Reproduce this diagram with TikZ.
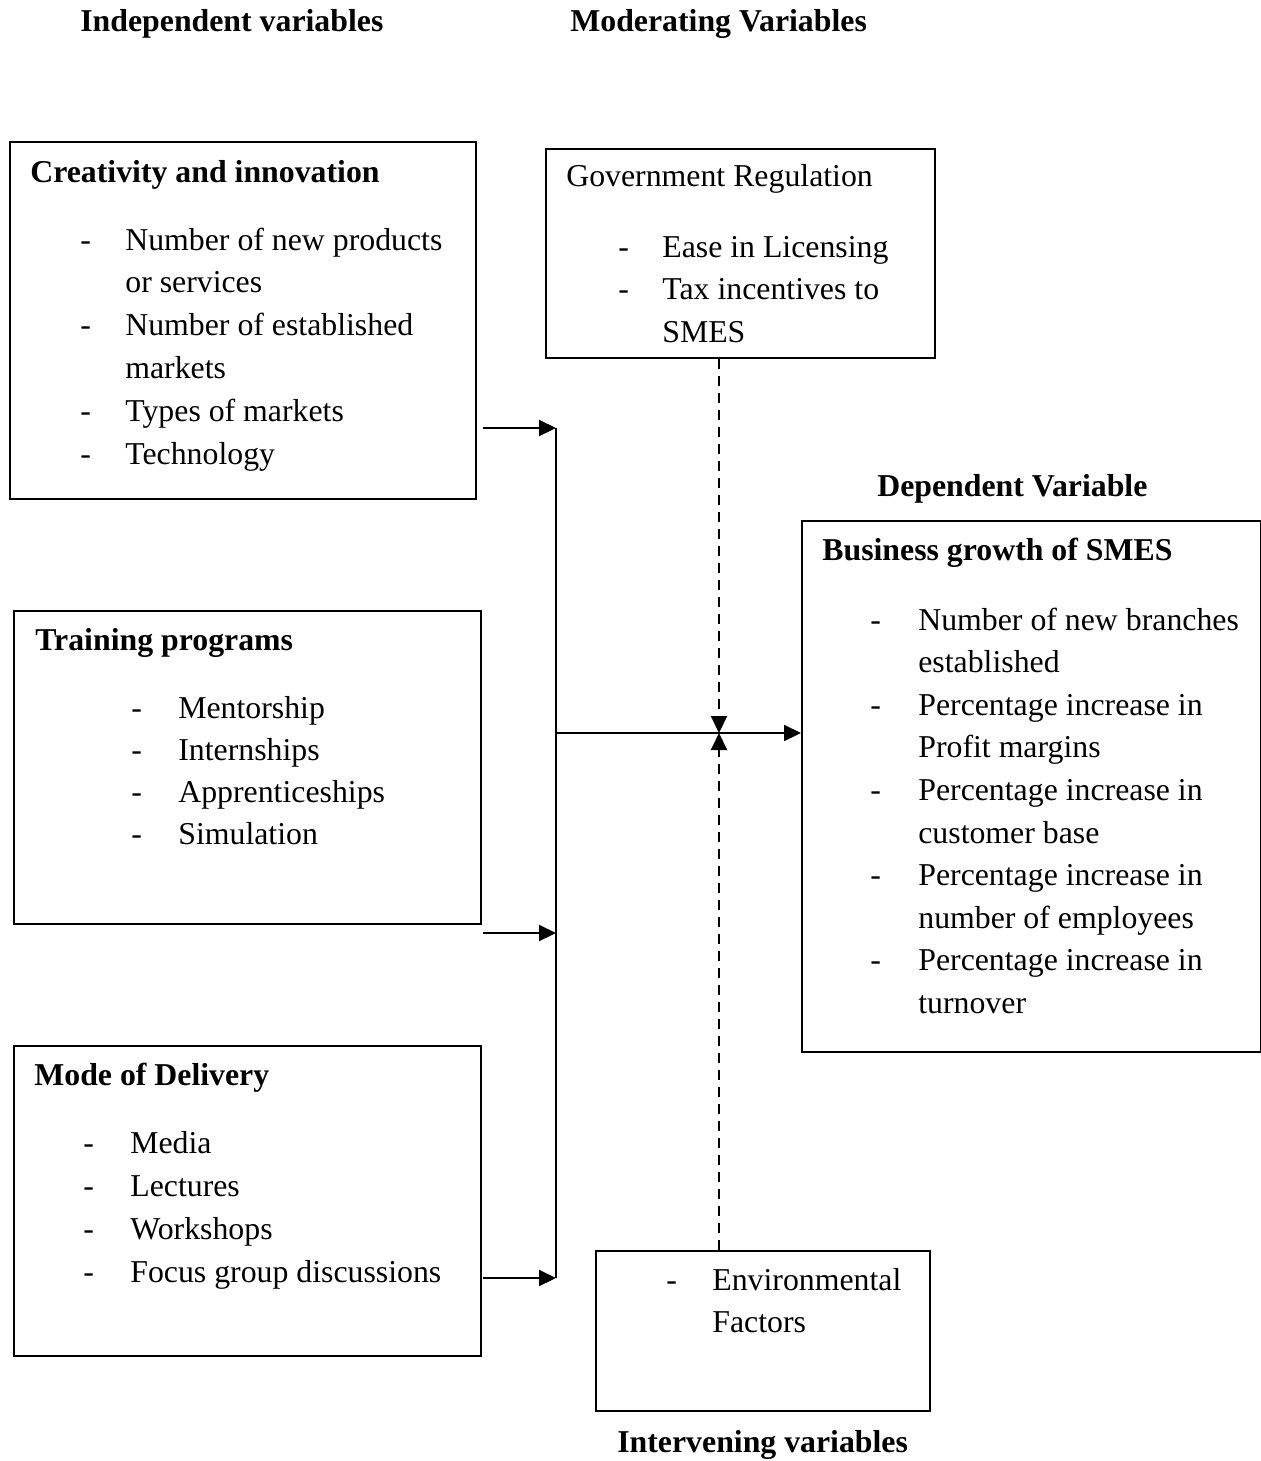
\documentclass[tikz,border=0pt]{standalone}
\usepackage{fontspec}
\setmainfont{Liberation Serif}
\usetikzlibrary{arrows.meta}
\begin{document}
\begin{tikzpicture}[x=0.02cm,y=-0.02cm,
		every node/.style={font=\fontsize{18.1}{24.3}\selectfont,inner sep=0pt},
		txt/.style={anchor=base west},
		head/.style={anchor=base west,font=\fontsize{18.1}{24.3}\selectfont\bfseries},
		box/.style 2 args={draw,line width=1.1pt,anchor=north west,minimum width=#1cm,minimum height=#2cm},
		arr/.style={line width=1.2pt,-{Triangle[length=0.34cm,width=0.32cm]}}]
	\useasboundingbox (0,0) rectangle (1261,1461);
	\node[head] (hindep) at (80,31) {Independent variables};
	\node[head] (hmod) at (570,31) {Moderating Variables};
	\node[head] (hdep) at (877,496) {Dependent Variable};
	\node[head] (hint) at (617,1452) {Intervening variables};
	\node[box={9.32}{7.14}] (creat) at (9,141) {};
	\node[head] (creatt) at (30,182) {Creativity and innovation};
	\foreach \t [count=\k from 0] in {Number of new products,or services,Number of established,markets,Types of markets,Technology}
		\node[txt] (creat\k) at (125,250+42.8*\k) {\t};
	\foreach \k in {0,2,4,5}
		\node[txt] (creatd\k) at (80,250+42.8*\k) {-};
	\node[box={7.78}{4.18}] (gov) at (545,148) {};
	\node[txt] (govt) at (566,186) {Government Regulation};
	\foreach \t [count=\k from 0] in {Ease in Licensing,Tax incentives to,SMES}
		\node[txt] (gov\k) at (662,257+42.6*\k) {\t};
	\foreach \k in {0,1}
		\node[txt] (govd\k) at (618,257+42.6*\k) {-};
	\node[box={9.34}{6.26}] (train) at (13,610) {};
	\node[head] (traint) at (35,650) {Training programs};
	\foreach \t [count=\k from 0] in {Mentorship,Internships,Apprenticeships,Simulation}
	{
		\node[txt] (train\k) at (178,718+42.3*\k) {\t};
		\node[txt] (traind\k) at (131,718+42.3*\k) {-};
	}
	\node[box={9.34}{6.20}] (mode) at (13,1045) {};
	\node[head] (modet) at (34,1085) {Mode of Delivery};
	\foreach \t [count=\k from 0] in {Media,Lectures,Workshops,Focus group discussions}
	{
		\node[txt] (mode\k) at (130,1153+43*\k) {\t};
		\node[txt] (moded\k) at (83,1153+43*\k) {-};
	}
	\node[box={9.18}{10.62}] (growth) at (801,520) {};
	\node[head] (growtht) at (822,560) {Business growth of SMES};
	\foreach \t [count=\k from 0] in {Number of new branches,established,Percentage increase in,Profit margins,Percentage increase in,customer base,Percentage increase in,number of employees,Percentage increase in,turnover}
		\node[txt] (growth\k) at (918,630+42.6*\k) {\t};
	\foreach \k in {0,2,4,6,8}
		\node[txt] (growthd\k) at (870,630+42.6*\k) {-};
	\node[box={6.68}{3.20}] (env) at (595,1250) {};
	\node[txt] (env0) at (712,1290) {Environmental};
	\node[txt] (env1) at (712,1332) {Factors};
	\node[txt] (envd0) at (666,1290) {-};
	\coordinate (j1) at (556,428);
	\coordinate (j2) at (556,933);
	\coordinate (j3) at (556,1278);
	\coordinate (hub) at (556,733);
	\coordinate (meet) at (719,733);
	\draw[line width=1.2pt] (j1) -- (j3);
	\draw[arr] ([xshift=0.12cm]creat.east |- j1) -- (j1);
	\draw[arr] ([xshift=0.02cm]train.east |- j2) -- (j2);
	\draw[arr] ([xshift=0.02cm]mode.east |- j3) -- (j3);
	\draw[arr] (hub) -- (hub -| growth.west);
	\draw[arr,dash pattern=on 0.2cm off 0.14cm] (gov.south -| meet) -- (meet);
	\draw[arr,dash pattern=on 0.2cm off 0.14cm] (env.north -| meet) -- (meet);
\end{tikzpicture}
\end{document}
